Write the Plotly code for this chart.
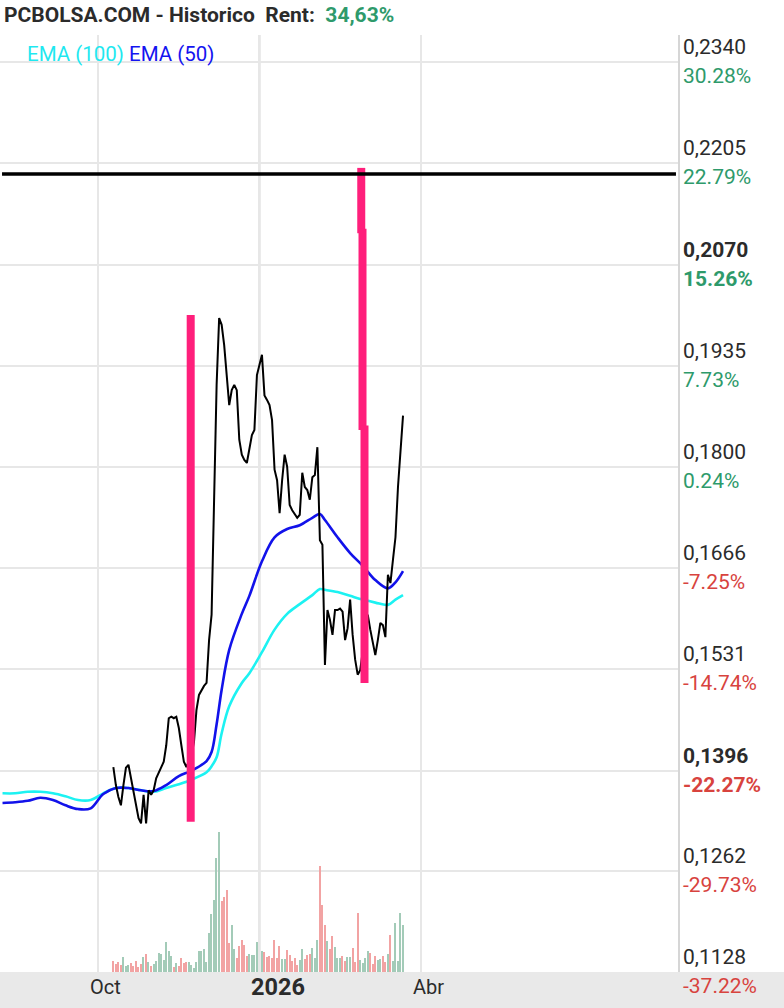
import pandas as pd
import plotly.graph_objects as go

# ---------------- data ----------------
HOLIDAYS = ["2025-12-25", "2025-12-26"]
trade_days = [d for d in pd.bdate_range("2025-10-09", "2026-03-23")
              if d.strftime("%Y-%m-%d") not in HOLIDAYS + ["2026-01-01"]]

close = [
    0.1401, 0.1377, 0.1361, 0.1350, 0.1377, 0.1400, 0.1404, 0.1386, 0.1368, 0.1350,
    0.1333, 0.1326, 0.1364, 0.1326, 0.1370, 0.1364, 0.1370,
    0.1386, 0.1394, 0.1401, 0.1408, 0.1430, 0.1466, 0.1468, 0.1466, 0.1468, 0.1453,
    0.1430, 0.1408, 0.1401, 0.1410, 0.1417, 0.1434, 0.1477, 0.1497, 0.1504, 0.1509,
    0.1513, 0.1570, 0.1604, 0.1770, 0.1910, 0.1999, 0.1990, 0.1963, 0.1916, 0.1883,
    0.1903, 0.1910, 0.1903, 0.1837, 0.1817, 0.1810, 0.1806, 0.1827, 0.1843, 0.1850, 0.1923,
    0.1950, 0.1896, 0.1890, 0.1883, 0.1863, 0.1797, 0.1783, 0.1739, 0.1783, 0.1817, 0.1801,
    0.1750, 0.1743, 0.1737, 0.1733, 0.1737, 0.1793, 0.1774, 0.1770, 0.1757, 0.1787,
    0.1790, 0.1827, 0.1703, 0.1697, 0.1537, 0.1610, 0.1597, 0.1577, 0.1610, 0.1610,
    0.1612, 0.1608, 0.1570, 0.1586, 0.1624, 0.1577, 0.1544, 0.1524, 0.1530, 0.1557,
    0.1584, 0.1604, 0.1584, 0.1564, 0.1550, 0.1570, 0.1593, 0.1590, 0.1574, 0.1657,
    0.1646, 0.1677, 0.1707, 0.1774, 0.1823, 0.1869,
]

volume_k = [h * 20 for h in [
    11, 8, 10, 7, 15, 6, 7, 9, 6, 11, 5, 8, 15, 18, 10, 6, 8, 11, 19, 18,
    12, 30, 21, 16, 5, 9, 6, 14, 9, 10, 10, 7, 4, 10, 21, 21, 23, 10, 39, 58,
    72, 114, 140, 71, 75, 82, 29, 47, 23, 14, 26, 32, 27, 16, 18, 17, 17, 30, 21, 20,
    15, 16, 14, 32, 14, 26, 13, 13, 22, 17, 11, 14, 7, 12, 23, 13, 17, 18, 24, 14,
    32, 106, 67, 47, 31, 23, 36, 25, 14, 14, 16, 11, 15, 15, 24, 10, 59, 12, 9, 14,
    21, 19, 8, 16, 12, 13, 16, 10, 18, 37, 11, 49, 11, 59, 47,
]]

ema_dates = [
    "2025-08-08", "2025-08-15", "2025-08-22", "2025-08-29", "2025-09-05", "2025-09-12",
    "2025-09-19", "2025-09-26", "2025-10-03", "2025-10-10", "2025-10-17", "2025-10-24",
    "2025-10-31", "2025-11-07", "2025-11-14", "2025-11-21", "2025-12-01", "2025-12-03",
    "2025-12-05", "2025-12-09", "2025-12-12", "2025-12-19", "2025-12-24", "2026-01-02",
    "2026-01-09", "2026-01-16", "2026-01-23", "2026-01-30", "2026-02-04", "2026-02-06",
    "2026-02-13", "2026-02-20", "2026-02-27", "2026-03-06", "2026-03-13", "2026-03-18",
    "2026-03-23",
]
ema50 = [
    0.1353, 0.1354, 0.1356, 0.1360, 0.1357, 0.1350, 0.1345, 0.1346, 0.1365, 0.1373,
    0.1373, 0.1370, 0.1369, 0.1377, 0.1389, 0.1396, 0.1409, 0.1421, 0.1458, 0.1504,
    0.1557, 0.1605, 0.1629, 0.1675, 0.1707, 0.1718, 0.1723, 0.1733, 0.1738, 0.1730,
    0.1707, 0.1686, 0.1669, 0.1650, 0.1639, 0.1647, 0.1662,
]
ema100 = [
    0.1366, 0.1366, 0.1368, 0.1368, 0.1366, 0.1362, 0.1357, 0.1357, 0.1366, 0.1373,
    0.1373, 0.1370, 0.1368, 0.1373, 0.1378, 0.1384, 0.1394, 0.1402, 0.1414, 0.1446,
    0.1482, 0.1513, 0.1526, 0.1554, 0.1584, 0.1605, 0.1618, 0.1630, 0.1638, 0.1637,
    0.1634, 0.1629, 0.1624, 0.1620, 0.1617, 0.1624, 0.1630,
]

# right-axis labels
price_ticks = [0.2340, 0.2205, 0.2070, 0.1935, 0.1800, 0.1666, 0.1531, 0.1396, 0.1262, 0.1128]
price_text = ["0,2340", "0,2205", "0,2070", "0,1935", "0,1800", "0,1666", "0,1531",
              "0,1396", "0,1262", "0,1128"]
pct_text = ["30.28%", "22.79%", "15.26%", "7.73%", "0.24%", "-7.25%", "-14.74%",
            "-22.27%", "-29.73%", "-37.22%"]
bold_ticks = ["0,2070", "0,1396"]

month_ticks = ["2025-10-01", "2026-01-01", "2026-04-01"]
month_text = ["Oct", "2026", "Abr"]

resistance = 0.2191
marker_bars = [  # (time, low, high)
    ("2025-11-20 17:00", 0.1328, 0.2003),
    ("2026-02-26 10:00", 0.2112, 0.2199),
    ("2026-02-26 22:00", 0.1850, 0.2118),
    ("2026-02-27 17:00", 0.1513, 0.1856),
]

# ---------------- figure ----------------
GREEN = "#2e9a6b"
RED = "#d8433e"
vol_colors = ["#f2a3a3"] + ["#a3cbb8" if close[i] >= close[i - 1] else "#f2a3a3"
                            for i in range(1, len(close))]

fig = go.Figure()
fig.add_trace(go.Bar(x=trade_days, y=volume_k, marker_color=vol_colors,
                     marker_line_width=0, width=0.5 * 86400000, yaxis="y2",
                     showlegend=False))
fig.add_trace(go.Scatter(x=ema_dates, y=ema100, mode="lines", line_shape="spline",
                         line=dict(color="#1cf2f2", width=2.6), showlegend=False))
fig.add_trace(go.Scatter(x=ema_dates, y=ema50, mode="lines", line_shape="spline",
                         line=dict(color="#1212ea", width=2.6), showlegend=False))
fig.add_trace(go.Scatter(x=trade_days, y=close, mode="lines",
                         line=dict(color="#000000", width=2), showlegend=False))
for t, lo, hi in marker_bars:
    fig.add_trace(go.Scatter(x=[t, t], y=[lo, hi], mode="lines",
                             line=dict(color="#ff1f7b", width=8), showlegend=False))

PLOT_H = 1008 - 35 - 36
fig.update_layout(
    width=784, height=1008,
    margin=dict(l=0, r=106, t=35, b=36),
    paper_bgcolor="white", plot_bgcolor="white",
    font=dict(family="Roboto", color="#333333"),
    bargap=0,
    xaxis=dict(type="date", range=["2025-08-07", "2026-08-21 04:00"],
               rangebreaks=[dict(bounds=["sat", "mon"]), dict(values=HOLIDAYS)],
               tickvals=month_ticks, showticklabels=False, ticks="",
               showgrid=True, gridcolor="#e7e7e7", gridwidth=2,
               zeroline=False, showline=False, fixedrange=True),
    yaxis=dict(range=[0.1128, 0.2376], tickvals=price_ticks, showticklabels=False,
               showgrid=True, gridcolor="#e7e7e7", gridwidth=2, zeroline=False,
               side="right", showline=True, linecolor="#d6d6d6", linewidth=2, ticks=""),
    yaxis2=dict(overlaying="y", range=[0, max(volume_k) * PLOT_H / 140],
                visible=False),
)

shapes = [
    dict(type="rect", xref="paper", yref="paper", x0=0, x1=784 / 678,
         y0=-36 / PLOT_H, y1=0, fillcolor="#e9e9e9", line_width=0, layer="below"),
    dict(type="line", xref="x", yref="paper", x0=month_ticks[1], x1=month_ticks[1],
         y0=0, y1=1, line=dict(color="#d2d2d2", width=2), layer="below"),
    dict(type="line", xref="paper", yref="y", x0=0.003, x1=0.997,
         y0=resistance, y1=resistance, line=dict(color="#000000", width=3.5)),
]
fig.update_layout(shapes=shapes)

ann = []
ann.append(dict(xref="paper", yref="paper", x=2 / 678, y=(972 - 15) / PLOT_H,
                xanchor="left", yanchor="middle", showarrow=False,
                text="<b>PCBOLSA.COM - Historico&nbsp;&nbsp;Rent:&nbsp;&nbsp;</b>"
                     f"<b><span style='color:{GREEN}'>34,63%</span></b>",
                font=dict(size=21, color="#2b2b2b")))
ann.append(dict(xref="paper", yref="paper", x=25 / 678, y=(972 - 54) / PLOT_H,
                xanchor="left", yanchor="middle", showarrow=False,
                text="<span style='color:#1fe8f0'>EMA (100)</span> "
                     "<span style='color:#1414f0'>EMA (50)</span>",
                font=dict(size=20.5)))
for v, pt, ct in zip(price_ticks, price_text, pct_text):
    bold = pt in bold_ticks
    col = GREEN if not ct.startswith("-") else RED
    ann.append(dict(xref="paper", yref="y", x=1.0, xshift=3, y=v, yshift=15,
                    xanchor="left", yanchor="middle", showarrow=False,
                    text=f"<b>{pt}</b>" if bold else pt,
                    font=dict(size=21, color="#2b2b2b")))
    ann.append(dict(xref="paper", yref="y", x=1.0, xshift=3, y=v, yshift=-14,
                    xanchor="left", yanchor="middle", showarrow=False,
                    text=f"<b>{ct}</b>" if bold else ct,
                    font=dict(size=21, color=col)))
for d, t in zip(month_ticks, month_text):
    bold = t.isdigit()
    ann.append(dict(xref="x", yref="paper", x=d, xshift=-10, y=-15 / PLOT_H,
                    xanchor="left", yanchor="middle", showarrow=False,
                    text=f"<b>{t}</b>" if bold else t,
                    font=dict(size=23.5 if bold else 20, color="#2b2b2b")))
fig.update_layout(annotations=ann)

fig.write_html("out.html", config={"displayModeBar": False},
               post_script="document.body.style.margin='0';")
